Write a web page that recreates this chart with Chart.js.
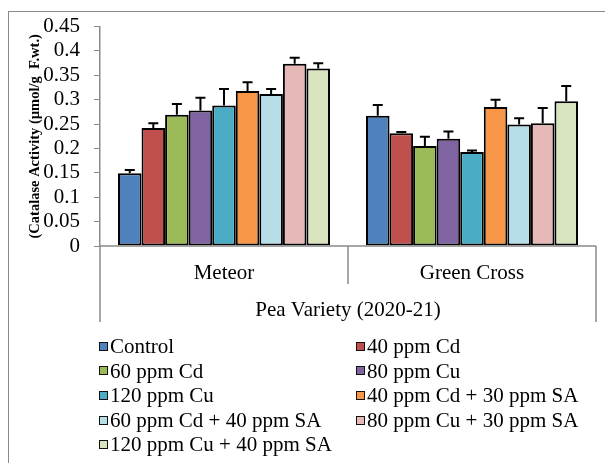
<!DOCTYPE html>
<html lang="en">
<head>
    <meta charset="UTF-8">
    <title>Catalase Activity</title>
    <script src="https://cdn.jsdelivr.net/npm/chart.js"></script>
    <style>
        body { margin: 0; background: #fff; }
        #wrap { position: relative; width: 605px; height: 463px; overflow: hidden; }
        #frame { position: absolute; left: 8px; top: 11px; width: 620px; height: 480px;
                 border-left: 1px solid #8a8a8a; border-top: 1px solid #8a8a8a; }
        #myChart { position: absolute; left: 0; top: 0; }
        #legend { position: absolute; left: 99px; top: 334px; display: grid;
                  grid-template-columns: 257px 250px; font-family: 'Liberation Serif', serif;
                  font-size: 21px; line-height: 24.6px; color: #000; }
        #legend div { white-space: nowrap; display: flex; align-items: center; }
        #legend span.box { display: inline-block; width: 7px; height: 7px; border: 1.5px solid #111;
                           margin-right: 2px; }
    </style>
</head>
<body>
<div id="wrap">
    <div id="frame"></div>
    <canvas id="myChart" width="605" height="336"></canvas>
    <div id="legend"></div>
</div>

<script>
    // data
    const varieties = ['Meteor', 'Green Cross'];
    const treatments = ['Control', '40 ppm Cd', '60 ppm Cd', '80 ppm Cu', '120 ppm Cu',
        '40 ppm Cd + 30 ppm SA', '60 ppm Cd + 40 ppm SA', '80 ppm Cu + 30 ppm SA', '120 ppm Cu + 40 ppm SA'];
    const colors = ['#4F81BD', '#C0504D', '#9BBB59', '#8064A2', '#4BACC6',
        '#F79646', '#B7DEE8', '#E6B9B8', '#D7E4BD'];
    const meteor = [0.149, 0.242, 0.269, 0.278, 0.288, 0.318, 0.312, 0.374, 0.364];
    const meteorErr = [0.007, 0.010, 0.022, 0.026, 0.034, 0.018, 0.010, 0.012, 0.011];
    const greenCross = [0.267, 0.231, 0.205, 0.220, 0.193, 0.285, 0.249, 0.252, 0.297];
    const greenCrossErr = [0.022, 0.003, 0.019, 0.015, 0.003, 0.015, 0.013, 0.031, 0.031];

    const serif = 'Liberation Serif';
    const axisGray = '#8a8a8a';

    const datasets = treatments.map((t, i) => ({
        label: t,
        data: [meteor[i], greenCross[i]],
        errors: [meteorErr[i], greenCrossErr[i]],
        backgroundColor: colors[i],
        borderColor: '#000',
        borderWidth: 2,
        borderSkipped: false,
    }));

    // upper half of the error bars
    const errorBars = {
        id: 'errorBars',
        afterDatasetsDraw(chart) {
            const ctx = chart.ctx;
            const y = chart.scales.y;
            ctx.save();
            ctx.strokeStyle = '#000';
            ctx.lineWidth = 2;
            chart.data.datasets.forEach((ds, i) => {
                chart.getDatasetMeta(i).data.forEach((bar, j) => {
                    const base = y.getPixelForValue(ds.data[j]);
                    const top = y.getPixelForValue(ds.data[j] + ds.errors[j]);
                    ctx.beginPath();
                    ctx.moveTo(bar.x, base);
                    ctx.lineTo(bar.x, top);
                    ctx.moveTo(bar.x - 5, top);
                    ctx.lineTo(bar.x + 5, top);
                    ctx.stroke();
                });
            });
            ctx.restore();
        }
    };

    // category dividers below the x axis (two-level axis look)
    const axisBox = {
        id: 'axisBox',
        afterDraw(chart) {
            const ctx = chart.ctx;
            const x = chart.scales.x;
            const a = chart.chartArea;
            const mid = (x.getPixelForValue(0) + x.getPixelForValue(1)) / 2;
            ctx.save();
            ctx.strokeStyle = axisGray;
            ctx.lineWidth = 1.5;
            ctx.beginPath();
            ctx.moveTo(a.left, a.bottom); ctx.lineTo(a.right, a.bottom);
            ctx.moveTo(a.left, a.bottom); ctx.lineTo(a.left, 322);
            ctx.moveTo(a.right, a.bottom); ctx.lineTo(a.right, 322);
            ctx.moveTo(mid, a.bottom); ctx.lineTo(mid, 284);
            ctx.stroke();
            ctx.restore();
        }
    };

    new Chart(document.getElementById('myChart'), {
        type: 'bar',
        data: { labels: varieties, datasets: datasets },
        plugins: [errorBars, axisBox],
        options: {
            responsive: false,
            animation: false,
            layout: { padding: { left: 0, right: 9, top: 22, bottom: 0 } },
            plugins: { legend: { display: false }, tooltip: { enabled: false } },
            datasets: { bar: { categoryPercentage: 0.855, barPercentage: 1 } },
            scales: {
                x: {
                    grid: { display: false },
                    border: { display: false },
                    ticks: { color: '#000', padding: 7, font: { family: serif, size: 21 } },
                    title: {
                        display: true, text: 'Pea Variety (2020-21)', color: '#000',
                        font: { family: serif, size: 21 }, padding: { top: 0, bottom: 13 }
                    },
                    afterFit: (s) => { s.height = 90; },
                },
                y: {
                    min: 0, max: 0.45,
                    grid: { drawOnChartArea: false, drawTicks: true, tickLength: 6, color: axisGray },
                    border: { display: true, color: axisGray, width: 1.5 },
                    ticks: {
                        stepSize: 0.05, autoSkip: false, color: '#000', padding: 14,
                        font: { family: serif, size: 21 },
                        callback: (v) => String(+v.toFixed(2)),
                    },
                    title: {
                        display: true, text: '(Catalase Activity (µmol/g  F.wt.)', color: '#000',
                        font: { family: serif, size: 14.5, weight: 'bold' }, padding: { top: 27, bottom: 0 }
                    },
                    afterFit: (s) => { s.width = 100; },
                },
            },
        },
    });

    // two-column legend
    const legend = document.getElementById('legend');
    treatments.forEach((t, i) => {
        const item = document.createElement('div');
        item.innerHTML = '<span class="box" style="background:' + colors[i] + '"></span>' + t;
        legend.appendChild(item);
    });
</script>
</body>
</html>
